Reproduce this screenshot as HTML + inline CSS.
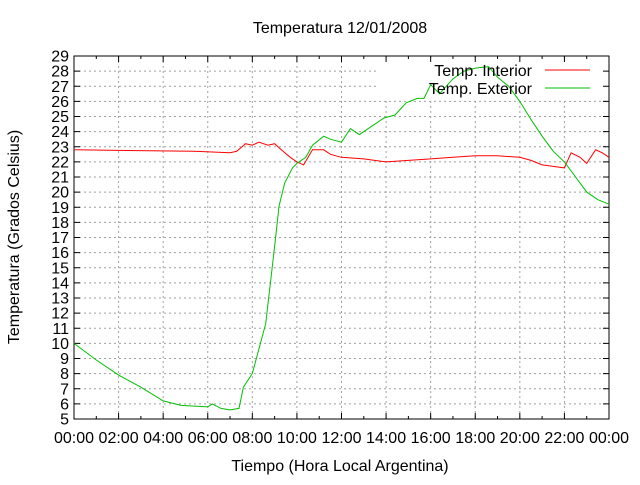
<!DOCTYPE html>
<html><head><meta charset="utf-8"><style>
html,body{margin:0;padding:0;background:#fff}
svg text{font-family:"Liberation Sans",sans-serif;font-size:16px;fill:#000}
</style></head><body>
<svg id="chart" width="640" height="480" xmlns="http://www.w3.org/2000/svg">
<text x="340" y="33" text-anchor="middle">Temperatura 12/01/2008</text>
<text x="19" y="237" text-anchor="middle" transform="rotate(-90 19 237)">Temperatura (Grados Celsius)</text>
<text x="340" y="471" text-anchor="middle">Tiempo (Hora Local Argentina)</text>
<g id="grid"></g>
<rect x="378" y="58" width="229" height="42" fill="#fff"/>
<g id="axes"></g>
<g id="series"></g>
<g>
<text x="532" y="76" text-anchor="end">Temp. Interior</text>
<line x1="545" y1="70" x2="590" y2="70" stroke="#ff0000" stroke-width="1"/>
<text x="532" y="94" text-anchor="end">Temp. Exterior</text>
<line x1="545" y1="88" x2="590" y2="88" stroke="#00c000" stroke-width="1"/>
</g>
</svg>
<script>
const xTickLabels=["00:00","02:00","04:00","06:00","08:00","10:00","12:00","14:00","16:00","18:00","20:00","22:00","00:00"];
const yTicks=[5,6,7,8,9,10,11,12,13,14,15,16,17,18,19,20,21,22,23,24,25,26,27,28,29];
const extHours=[0,1,2,3,4,4.8,6,6.2,6.6,7,7.4,7.6,8,8.6,9,9.2,9.45,9.8,10,10.4,10.7,11.2,11.5,12,12.4,12.8,13.6,13.9,14.4,14.9,15.4,15.7,16,16.4,17,17.5,18,18.6,19,19.5,20,20.5,21,21.5,22,22.5,23,23.5,24];
const extTemps=[10,8.9,7.9,7.1,6.2,5.9,5.8,6.0,5.7,5.6,5.7,7.1,8,11.3,16.4,19.1,20.6,21.6,21.9,22.3,23.1,23.7,23.5,23.3,24.2,23.8,24.6,24.9,25.1,25.9,26.2,26.2,27.1,26.5,27.5,28.0,28.2,28.3,27.6,27.0,26.0,24.8,23.7,22.7,22.0,21.0,20.0,19.5,19.2];
const intHours=[0,5.4,7,7.3,7.7,8,8.3,8.7,9,9.3,9.7,10,10.3,10.7,11.2,11.5,12,13,14,15,16,17,18,19,20,20.5,21,21.5,22,22.3,22.7,23,23.4,23.7,24];
const intTemps=[22.8,22.7,22.6,22.7,23.2,23.1,23.3,23.1,23.2,22.8,22.3,22.0,21.8,22.8,22.8,22.5,22.3,22.2,22.0,22.1,22.2,22.3,22.4,22.4,22.3,22.1,21.8,21.7,21.6,22.6,22.3,21.9,22.8,22.6,22.3];
const L=74,R=609,T=56,B=419;
const xs=h=>L+(R-L)*h/24;
const ys=v=>B-(B-T)*(v-5)/24;
const NS="http://www.w3.org/2000/svg";
function mk(tag,parent,attrs){const e=document.createElementNS(NS,tag);for(const k in attrs)e.setAttribute(k,attrs[k]);parent.appendChild(e);return e;}
const grid=document.getElementById('grid'),axes=document.getElementById('axes'),series=document.getElementById('series');
yTicks.forEach(v=>{
 const y=ys(v);
 if(v>5&&v<29){const g=mk('line',grid,{x1:L,y1:y,x2:R,y2:y,stroke:'#a0a0a0','stroke-dasharray':'2,3'});
 }
 const t1=mk('line',axes,{x1:L,y1:y,x2:L+6,y2:y,stroke:'#000'});
 const t2=mk('line',axes,{x1:R,y1:y,x2:R-6,y2:y,stroke:'#000'});
 const tx=mk('text',axes,{x:L-5,y:y+5.5,'text-anchor':'end'});tx.textContent=v;
 
});
for(let h=0;h<=24;h++){
 const x=xs(h),major=h%2===0;
 if(major&&h>0&&h<24){const g=mk('line',grid,{x1:x,y1:T,x2:x,y2:B,stroke:'#a0a0a0','stroke-dasharray':'2,3'});
 }
 const len=major?6:3;
 const t1=mk('line',axes,{x1:x,y1:B,x2:x,y2:B-len,stroke:'#000'});
 const t2=mk('line',axes,{x1:x,y1:T,x2:x,y2:T+len,stroke:'#000'});
}
xTickLabels.forEach((s,i)=>{const tx=mk('text',axes,{x:xs(i*2),y:443,'text-anchor':'middle'});tx.textContent=s;
 });
const fr=mk('rect',axes,{x:L,y:T,width:R-L,height:B-T,fill:'none',stroke:'#000'});

function line(hs,vs,color,name){const p=mk('polyline',series,{points:hs.map((h,i)=>xs(h).toFixed(1)+','+ys(vs[i]).toFixed(1)).join(' '),fill:'none',stroke:color,'stroke-width':1});
 }
line(intHours,intTemps,'#ff0000','line-temp-interior');
line(extHours,extTemps,'#00c000','line-temp-exterior');
</script>
</body></html>
